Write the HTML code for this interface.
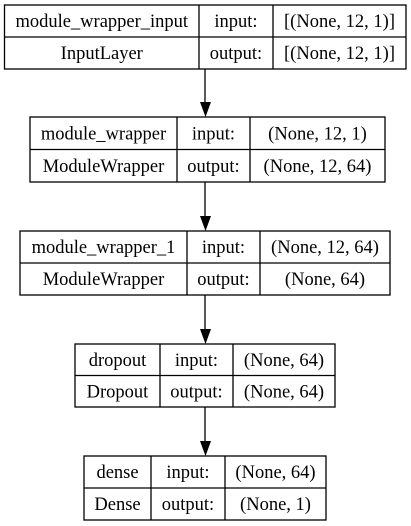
<!DOCTYPE html>
<html><head><meta charset="utf-8"><style>
html,body{margin:0;padding:0;background:#fff;}
svg{display:block;}
svg text{font-family:"Liberation Serif","Noto Serif CJK SC","DejaVu Serif",serif;font-size:18.5px;fill:#000;}
</style></head><body>
<svg id="g" width="411" height="526" viewBox="0 0 411 526"></svg>
<script>
const names=["module_wrapper_input","module_wrapper","module_wrapper_1","dropout","dense"];
const types=["InputLayer","ModuleWrapper","ModuleWrapper","Dropout","Dense"];
const inputs=["[(None, 12, 1)]","(None, 12, 1)","(None, 12, 64)","(None, 64)","(None, 64)"];
const outputs=["[(None, 12, 1)]","(None, 12, 64)","(None, 64)","(None, 64)","(None, 1)"];
// layout
const boxes=[[4.5,5,199,273,406,69],[30,117,177,250,385,182],[20,231,187,260,390,295],[75,344,160,233,335,407],[84,456,151,225,326,520]];
const svg=document.getElementById('g');
const NS='http://www.w3.org/2000/svg';
function mk(t,a){const e=document.createElementNS(NS,t);for(const k in a)e.setAttribute(k,a[k]);svg.appendChild(e);return e;}
function txt(x,y,s){const t=mk('text',{x:x,y:y,'text-anchor':'middle'});t.textContent=s;return t;}
boxes.forEach((b,i)=>{
  const [x0,y0,c1,c2,x1,y1]=b;const ym=(y0+y1)/2;
  const g=mk('rect',{x:x0,y:y0,width:x1-x0,height:y1-y0,fill:'none',stroke:'#000','stroke-width':1.3});
  
  
  mk('line',{x1:x0,y1:ym,x2:x1,y2:ym,stroke:'#000','stroke-width':1.3});
  mk('line',{x1:c1,y1:y0,x2:c1,y2:y1,stroke:'#000','stroke-width':1.3});
  mk('line',{x1:c2,y1:y0,x2:c2,y2:y1,stroke:'#000','stroke-width':1.3});
  const r1=(y0+ym)/2+6,r2=(ym+y1)/2+6;
  let t=txt((x0+c1)/2,r1,names[i]);
  t=txt((x0+c1)/2,r2,types[i]);
  t=txt((c1+c2)/2,r1,'input:');
  t=txt((c1+c2)/2,r2,'output:');
  t=txt((c2+x1)/2,r1,inputs[i]);
  t=txt((c2+x1)/2,r2,outputs[i]);
  if(i<boxes.length-1){
    const ny=boxes[i+1][1];
    const l=mk('line',{x1:205,y1:y1,x2:205,y2:ny-14,stroke:'#000','stroke-width':1.3});
    
    
    const p=mk('polygon',{points:`200,${ny-15} 211,${ny-15} 205.5,${ny}`,fill:'#000'});
    
    
  }
});
</script>
</body></html>
